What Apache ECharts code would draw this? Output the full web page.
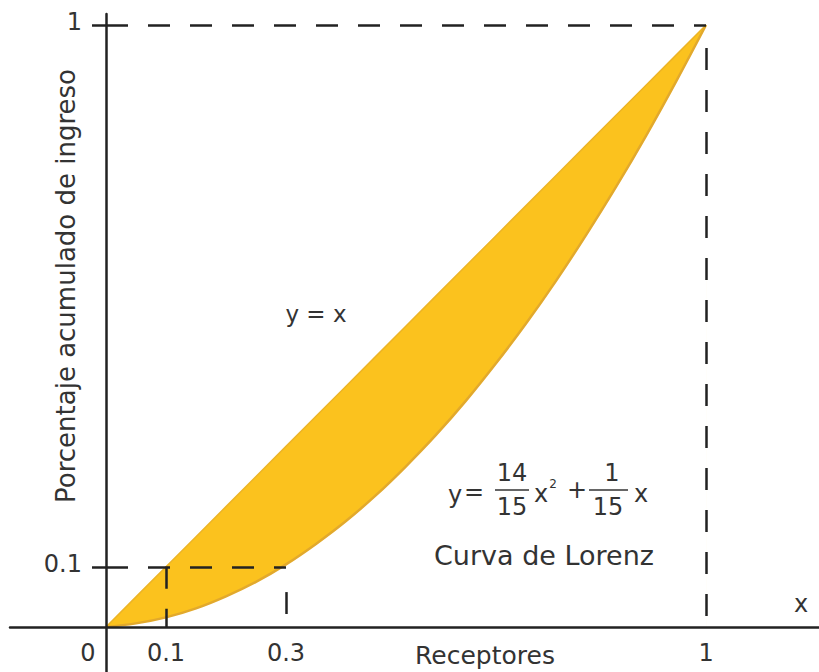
<!DOCTYPE html>
<html>
<head>
<meta charset="utf-8">
<script src="https://cdn.jsdelivr.net/npm/echarts@6/dist/echarts.min.js"></script>
<style>html,body{margin:0;padding:0;background:#fff;}#c{width:819px;height:672px;}</style>
</head>
<body>
<div id="c"></div>
<script>
// Data
const xs = [0, 0.05, 0.1, 0.15, 0.2, 0.25, 0.3, 0.35, 0.4, 0.45, 0.5, 0.55, 0.6, 0.65, 0.7, 0.75, 0.8, 0.85, 0.9, 0.95, 1];
const equality = [0, 0.05, 0.1, 0.15, 0.2, 0.25, 0.3, 0.35, 0.4, 0.45, 0.5, 0.55, 0.6, 0.65, 0.7, 0.75, 0.8, 0.85, 0.9, 0.95, 1];
const lorenz = [0, 0.006, 0.016, 0.031, 0.051, 0.075, 0.104, 0.138, 0.176, 0.219, 0.267, 0.319, 0.376, 0.438, 0.504, 0.575, 0.651, 0.731, 0.816, 0.906, 1];
const xTickLabels = [0, 0.1, 0.3, 1];
const yTickLabels = [0.1, 1];
const yName = 'Porcentaje acumulado de ingreso';
const xName = 'Receptores';
const varName = 'x';
const eqLabel = 'y = x';
const curveLabel = 'Curva de Lorenz';

const FONT = '"DejaVu Sans", sans-serif';
const TXT = '#333';
const AX = '#222';

const chart = echarts.init(document.getElementById('c'), null, {renderer: 'svg'});

const eqData = xs.map((x, i) => [x, equality[i]]);
const lorenzData = xs.map((x, i) => [x, lorenz[i]]);

const xLabelItems = xTickLabels.map(v => ({
  value: [v, 0], name: String(v),
  label: {offset: [v === 0 ? -18 : 0, 26]}
}));
const yLabelItems = yTickLabels.map(v => ({
  value: [0, v], name: String(v),
  label: {offset: [-24, -3], align: 'right'}
}));

const dash = [22, 20];
const T = (text, x, y, size) => ({
  type: 'text', x, y, z: 100,
  style: {text, font: (size || 24) + 'px ' + FONT, fill: TXT, textAlign: 'center', textVerticalAlign: 'middle'}
});
const labelSeries = (data, size) => ({
  type: 'scatter', symbolSize: 0, z: 6, data,
  itemStyle: {opacity: 1},
  label: {show: true, position: 'inside', formatter: p => p.name, fontFamily: FONT, fontSize: size, color: TXT, opacity: 1}
});
const option = {
  animation: false,
  backgroundColor: '#fff',
  grid: {left: 10, right: 0, top: 14, bottom: 0, outerBoundsMode: 'none', containLabel: false},
  xAxis: {
    type: 'value', min: -0.16, max: 1.1883, z: 10,
    axisLine: {onZero: true, lineStyle: {color: AX, width: 2.5}},
    axisTick: {show: false},
    splitLine: {show: false},
    axisLabel: {show: false}
  },
  yAxis: {
    type: 'value', min: -0.07475, max: 1.01827, z: 10,
    axisLine: {onZero: true, lineStyle: {color: AX, width: 2.5}},
    axisTick: {show: true, customValues: yTickLabels, length: 14, lineStyle: {color: AX, width: 2.5}},
    splitLine: {show: false},
    axisLabel: {show: false}
  },
  series: [
    {
      type: 'line', data: eqData, symbol: 'none', z: 1,
      lineStyle: {color: '#EDB425', width: 1.5},
      areaStyle: {color: '#FBC21E', opacity: 1}
    },
    {
      type: 'line', data: lorenzData, smooth: 0.4, symbol: 'none', z: 2,
      lineStyle: {color: '#E2A92C', width: 2.5},
      areaStyle: {color: '#ffffff', opacity: 1}
    },
    {
      type: 'line', data: [], z: 5,
      markLine: {
        silent: true, symbol: ['none', 'none'], label: {show: false},
        lineStyle: {color: AX, width: 2.5, type: dash},
        data: [
          [{coord: [0, 1]}, {coord: [1, 1]}],
          [{coord: [1, 0.9618]}, {coord: [1, 0.018]}],
          [{coord: [0, 0.1]}, {coord: [0.3, 0.1]}],
          [{coord: [0.1, 0.1]}, {coord: [0.1, 0]}],
          [{coord: [0.3, 0.058]}, {coord: [0.3, 0.0216]}]
        ]
      }
    },
    labelSeries([{value: [0.35, 0.52], name: eqLabel}], 23),
    labelSeries([{value: [0.73, 0.118], name: curveLabel}], 27),
    labelSeries(xLabelItems.concat(yLabelItems), 24)
  ],
  graphic: [
    Object.assign(T(yName, 66, 286, 26), {rotation: Math.PI / 2}),
    T(xName, 485, 655, 25),
    T(varName, 801, 604, 24),
    // formula y = 14/15 x² + 1/15 x
    T('y', 455, 495),
    T('=', 474, 492),
    T('14', 512, 473),
    {type: 'line', z: 100, shape: {x1: 495, y1: 490, x2: 529, y2: 490}, style: {stroke: TXT, lineWidth: 1.5}},
    T('15', 512, 507),
    T('x', 541, 494),
    T('2', 553, 484, 12),
    T('+', 577, 490),
    T('1', 612, 473),
    {type: 'line', z: 100, shape: {x1: 589, y1: 490, x2: 628, y2: 490}, style: {stroke: TXT, lineWidth: 1.5}},
    T('15', 608, 507),
    T('x', 641, 494)
  ]
};
chart.setOption(option);
</script>
</body>
</html>
